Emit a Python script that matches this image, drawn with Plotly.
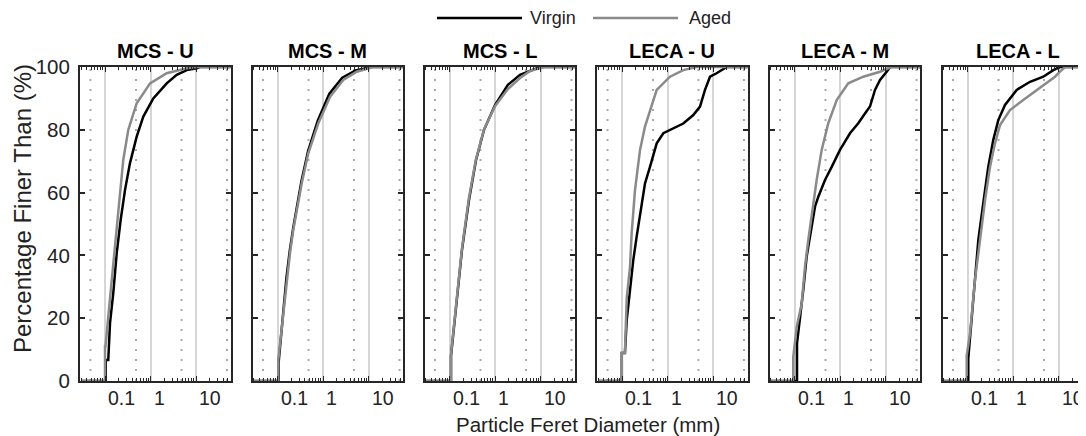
import math
import plotly.graph_objects as go

W, H = 1086, 436

panels = ["MCS - U", "MCS - M", "MCS - L", "LECA - U", "LECA - M", "LECA - L"]
x_tick_vals = [0.1, 1, 10]
x_tick_text = ["0.1", "1", "10"]
y_tick_vals = [0, 20, 40, 60, 80, 100]
dotted_grid_vals = [0.048, 0.48, 4.8, 48]

# ---- Virgin (black) : diameter (mm) / percentage finer (%)
virgin_mcs_u_d = [0.03, 0.104, 0.104, 0.118, 0.129, 0.152, 0.181, 0.221, 0.275, 0.354, 0.497, 0.695, 1.152, 2.27, 3.77, 6.25, 10.4, 12.2, 60]
virgin_mcs_u_p = [0, 0, 6.7, 6.7, 18.5, 28, 40.7, 51.3, 60.8, 69.4, 77.8, 84.2, 90, 94.8, 97.5, 99, 99.6, 100, 100]
virgin_mcs_m_d = [0.03, 0.106, 0.106, 0.125, 0.157, 0.186, 0.220, 0.335, 0.470, 0.770, 1.38, 2.65, 5.2, 12.0, 60]
virgin_mcs_m_p = [0, 0, 6.0, 17.8, 32.8, 41.5, 48.5, 63.5, 73.2, 83.0, 91.5, 96.6, 98.9, 100, 100]
virgin_mcs_l_d = [0.03, 0.108, 0.108, 0.146, 0.188, 0.268, 0.383, 0.574, 1.0, 1.92, 3.54, 9.8, 60]
virgin_mcs_l_p = [0, 0, 8, 25.8, 41.7, 57.6, 70.4, 80, 87.9, 94.3, 97.5, 100, 100]
virgin_leca_u_d = [0.03, 0.099, 0.099, 0.116, 0.127, 0.150, 0.177, 0.210, 0.271, 0.320, 0.412, 0.579, 0.809, 1.34, 2.22, 3.69, 5.18, 6.67, 8.59, 12.0, 18.4, 20.0, 60]
virgin_leca_u_p = [0, 0, 8.9, 8.9, 19.4, 29, 38.5, 46, 55.5, 62.9, 68.2, 75.7, 78.9, 80.4, 82, 84.7, 87.4, 92.7, 96.9, 98, 99.6, 100, 100]
virgin_leca_m_d = [0.03, 0.1135, 0.1135, 0.132, 0.156, 0.185, 0.239, 0.282, 0.334, 0.468, 0.657, 1.0, 1.66, 2.52, 3.54, 4.56, 5.88, 7.57, 10.6, 12.6, 60]
virgin_leca_m_p = [0, 0, 12, 19.4, 29, 39.6, 49.1, 55.5, 58.7, 64, 68.2, 73.6, 78.9, 82.1, 85.2, 87.4, 92.7, 95.9, 98.5, 100, 100]
virgin_leca_l_d = [0.03, 0.104, 0.104, 0.124, 0.146, 0.173, 0.222, 0.286, 0.369, 0.475, 0.667, 1.205, 2.37, 4.63, 7.69, 10.8, 60]
virgin_leca_l_p = [0, 0, 7.2, 20.5, 34.3, 44.9, 56.6, 68.2, 76.8, 83.1, 87.9, 92.7, 95.3, 96.9, 99, 100, 100]

# ---- Aged (grey)
aged_mcs_u_d = [0.03, 0.1, 0.1, 0.1025, 0.129, 0.166, 0.196, 0.252, 0.325, 0.497, 0.976, 2.27, 6.25, 10.5, 60]
aged_mcs_u_p = [0, 0, 11, 11, 26.4, 42.7, 55.5, 70.4, 80, 88.4, 94.8, 98, 99.6, 100, 100]
aged_mcs_m_d = [0.03, 0.104, 0.104, 0.124, 0.159, 0.188, 0.222, 0.340, 0.475, 0.789, 1.43, 2.79, 5.51, 12.7, 60]
aged_mcs_m_p = [0, 0, 6.7, 17.3, 32.2, 40.7, 48.1, 62.9, 72.5, 82.1, 90.5, 95.9, 98.5, 100, 100]
aged_mcs_l_d = [0.03, 0.107, 0.107, 0.145, 0.187, 0.265, 0.38, 0.57, 1.0, 1.92, 3.54, 6.0, 12.0, 60]
aged_mcs_l_p = [0, 0, 8, 26, 42, 58, 70.5, 80, 87.5, 93, 96.5, 98.8, 100, 100]
aged_leca_u_d = [0.03, 0.099, 0.099, 0.116, 0.127, 0.150, 0.163, 0.193, 0.249, 0.320, 0.579, 1.135, 2.22, 4.38, 60]
aged_leca_u_p = [0, 0, 8.9, 8.9, 26.3, 36.4, 47, 60.8, 73.6, 81, 92.7, 96.9, 99, 100, 100]
aged_leca_m_d = [0.03, 0.094, 0.094, 0.112, 0.144, 0.170, 0.201, 0.239, 0.307, 0.396, 0.553, 0.846, 1.52, 3.25, 7.57, 11.5, 13.7, 60]
aged_leca_m_p = [0, 0, 7.7, 17.3, 24.7, 36.4, 44.9, 53.4, 64, 73.6, 82.1, 89.5, 94.8, 96.9, 98.5, 99.6, 100, 100]
aged_leca_l_d = [0.03, 0.096, 0.096, 0.1135, 0.146, 0.188, 0.243, 0.313, 0.402, 0.518, 0.859, 1.68, 3.32, 5.51, 8.38, 10.8, 13.9, 60]
aged_leca_l_p = [0, 0, 8, 15.2, 32.2, 44.9, 57.6, 68.2, 75.7, 81.5, 86.3, 89.5, 92.7, 94.8, 96.9, 98.5, 100, 100]

virgin = [
    (virgin_mcs_u_d, virgin_mcs_u_p), (virgin_mcs_m_d, virgin_mcs_m_p), (virgin_mcs_l_d, virgin_mcs_l_p),
    (virgin_leca_u_d, virgin_leca_u_p), (virgin_leca_m_d, virgin_leca_m_p), (virgin_leca_l_d, virgin_leca_l_p),
]
aged = [
    (aged_mcs_u_d, aged_mcs_u_p), (aged_mcs_m_d, aged_mcs_m_p), (aged_mcs_l_d, aged_mcs_l_p),
    (aged_leca_u_d, aged_leca_u_p), (aged_leca_m_d, aged_leca_m_p), (aged_leca_l_d, aged_leca_l_p),
]

# ---- layout geometry (screen pixels; the page body adds an 8 px offset)
PAGE_OFF = 8
panel_left = [80, 252.5, 424.5, 597, 769.5, 942.5]
panel_w = 150.5
plot_top, plot_bot = 67, 381
decade_px = 45.5
log_left = -1 - 25 / decade_px  # log10 value at panel left edge


def px(p):
    return (p - PAGE_OFF) / W


def py(p):
    return 1 - (p - PAGE_OFF) / H


BLACK = "#000000"
GREY = "#8a8a8a"
AXC = "#262626"
FONT = "Liberation Sans, Arial, Helvetica, sans-serif"

fig = go.Figure()
layout = dict(
    width=W, height=H, margin=dict(l=0, r=0, t=0, b=0, autoexpand=False),
    paper_bgcolor="white", plot_bgcolor="white", showlegend=False,
    font=dict(family=FONT, color="#222222", size=19),
)
shapes, annotations = [], []

minor_vals = [m * 10 ** k for k in (-2, -1, 0, 1) for m in range(2, 10)]

for i in range(6):
    n = "" if i == 0 else str(i + 1)
    xa, ya = "x" + n, "y" + n
    left = panel_left[i]
    right = left + panel_w
    dom = [px(left), min(px(right), 1.0)]
    log_right = log_left + (right - left) / decade_px
    layout["xaxis" + n] = dict(
        type="log", domain=dom, range=[log_left, log_right], anchor=ya,
        showline=True, linecolor=AXC, linewidth=2, mirror="allticks",
        ticks="inside", ticklen=5, tickcolor=AXC, tickwidth=1,
        tickvals=x_tick_vals, showticklabels=False,
        showgrid=True, gridcolor="#d6d6d6", gridwidth=2, zeroline=False,
        minor=dict(tickvals=minor_vals, ticks="inside", ticklen=3, tickcolor=AXC, tickwidth=1, showgrid=False),
        fixedrange=True, automargin=False,
    )
    layout["yaxis" + n] = dict(
        domain=[py(plot_bot), py(plot_top)], range=[0, 100], anchor=xa,
        showline=True, linecolor=AXC, linewidth=2, mirror="allticks",
        ticks="inside", ticklen=5, tickcolor=AXC, tickwidth=1.5,
        tickvals=y_tick_vals, showticklabels=(i == 0), ticklabelstandoff=4,
        tickfont=dict(size=20.5, color="#222222"),
        showgrid=False, zeroline=False, fixedrange=True, automargin=False,
    )

    for g in dotted_grid_vals:
        shapes.append(dict(type="line", xref=xa, yref=ya + " domain", x0=g, x1=g, y0=0, y1=1,
                           line=dict(color="#a8a8a8", width=2, dash="2px,8px"), layer="below"))

    vd, vp = virgin[i]
    ad, ap = aged[i]
    fig.add_trace(go.Scatter(x=vd, y=vp, mode="lines", line=dict(color=BLACK, width=2.5),
                             xaxis=xa, yaxis=ya, name="Virgin", showlegend=False))
    fig.add_trace(go.Scatter(x=ad, y=ap, mode="lines", line=dict(color=GREY, width=2.5),
                             xaxis=xa, yaxis=ya, name="Aged", showlegend=False))

    annotations.append(dict(text="<b>" + panels[i] + "</b>", xref="paper", yref="paper",
                            x=px(left + panel_w / 2), y=py(51.5), showarrow=False,
                            xanchor="center", yanchor="middle", font=dict(size=20, color="#000000")))
    for v, t in zip(x_tick_vals, x_tick_text):
        annotations.append(dict(text=t, xref=xa, yref="paper", x=math.log10(v), y=py(398),
                                xanchor="left", yanchor="middle", xshift=1, showarrow=False,
                                font=dict(size=19.5, color="#222222")))

# axis titles
annotations.append(dict(text="Particle Feret Diameter (mm)", xref="paper", yref="paper",
                        x=px(587.5), y=py(424), showarrow=False, xanchor="center", yanchor="middle",
                        font=dict(size=20.5, color="#222222")))
annotations.append(dict(text="Percentage Finer Than (%)", xref="paper", yref="paper",
                        x=px(22), y=py(209), showarrow=False, textangle=-90,
                        xanchor="center", yanchor="middle", font=dict(size=24, color="#222222")))

# legend (drawn at top centre)
legend_items = [("Virgin", BLACK, 437, 522, 528), ("Aged", GREY, 593, 678, 687)]
for label, col, x0, x1, xt in legend_items:
    shapes.append(dict(type="line", xref="paper", yref="paper", x0=px(x0), x1=px(x1),
                       y0=py(18), y1=py(18), line=dict(color=col, width=2.5)))
    annotations.append(dict(text=label, xref="paper", yref="paper", x=px(xt), y=py(18),
                            xanchor="left", yanchor="middle", showarrow=False,
                            font=dict(size=18, color="#222222")))

layout["shapes"] = shapes
layout["annotations"] = annotations
fig.update_layout(**layout)
fig.write_html("out.html")
